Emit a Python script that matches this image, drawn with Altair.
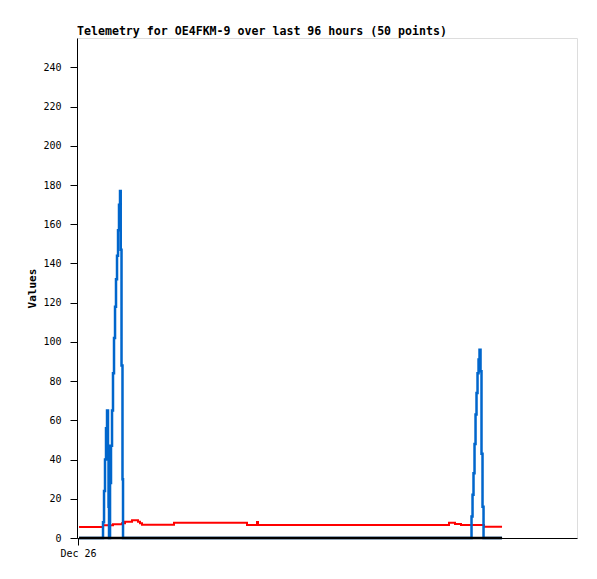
import altair as alt
import pandas as pd

title_text = "Telemetry for OE4FKM-9 over last 96 hours (50 points)"

# hours since Dec 26 00:00
blue_hours = [0.23, 5.55, 5.66, 5.89, 6.11, 6.34, 6.57, 6.79, 6.91, 7.02, 7.25, 7.47, 7.70,
              7.92, 8.15, 8.38, 8.60, 8.83, 9.06, 9.28, 9.51, 9.67, 9.85, 10.07, 10.19,
              88.98, 89.09, 89.32, 89.54, 89.77, 90.00, 90.22, 90.45, 90.68, 90.90,
              91.13, 91.35, 91.58, 91.81, 96.0]
blue_vals = [0, 0, 8, 24, 40, 56, 65, 47, 16, 0, 28, 47, 65,
             84, 102, 118, 132, 144, 157, 170, 177, 147, 88, 30, 0,
             0, 11, 22, 33, 48, 63, 74, 84, 91, 96,
             85, 43, 16, 0, 0]

red_hours = [0.23, 5.43, 5.66, 7.70, 7.92, 9.74, 9.96, 10.41, 10.64, 12.0, 12.23, 13.36,
             13.58, 14.04, 14.49, 21.28, 21.73, 37.81, 38.26, 40.30, 40.53, 40.75,
             83.54, 83.99, 84.90, 85.35, 86.48, 86.71, 91.47, 91.92, 96.0]
red_vals = [5.6, 5.6, 6.5, 6.5, 7.0, 7.0, 7.5, 7.5, 8.3, 8.3, 9.0, 9.0,
            8.3, 7.5, 6.8, 6.8, 7.8, 7.8, 6.6, 6.6, 8.2, 6.6,
            6.6, 7.8, 7.8, 7.1, 7.1, 6.6, 6.6, 5.8, 5.8]

black_hours = [0.23, 96.0]
black_vals = [0, 0]

x_tick_values = [0]
x_tick_labels = ["Dec 26"]
y_ticks = [0, 20, 40, 60, 80, 100, 120, 140, 160, 180, 200, 220, 240]

red_df = pd.DataFrame({"h": red_hours, "v": red_vals, "o": range(len(red_hours))})
blue_df = pd.DataFrame({"h": blue_hours, "v": blue_vals, "o": range(len(blue_hours))})
black_df = pd.DataFrame({"h": black_hours, "v": black_vals, "o": range(len(black_hours))})

label_expr = "{" + ",".join(f"'{v}':'{l}'" for v, l in zip(x_tick_values, x_tick_labels)) + "}[datum.value]"

font = "DejaVu Sans Mono"

x_enc = alt.X("h:Q", scale=alt.Scale(domain=[-0.23, 112.97], nice=False, zero=False),
              axis=alt.Axis(values=x_tick_values, labelExpr=label_expr, title=None, grid=False,
                            tickSize=7, labelPadding=3, labelFont=font, labelFontSize=10,
                            labelColor="black", domainColor="black", tickColor="black"))
y_enc = alt.Y("v:Q", scale=alt.Scale(domain=[0, 255], nice=False),
              axis=alt.Axis(values=y_ticks, title="Values", grid=False, tickSize=7,
                            labelPadding=9, labelFont=font, labelFontSize=10, labelColor="black",
                            titleFont=font, titleFontSize=11, titleFontWeight="bold",
                            titleX=-45, titleY=250, titleAlign="center", titleBaseline="middle",
                            titleAngle=-90, domainColor="black", tickColor="black"))

red = alt.Chart(red_df).mark_line(color="#ff0000", strokeWidth=2, interpolate="step-after").encode(
    x=x_enc, y=y_enc, order="o:Q")
blue = alt.Chart(blue_df).mark_line(color="#0066cc", strokeWidth=2.5, interpolate="step-after").encode(
    x=x_enc, y=y_enc, order="o:Q")
black = alt.Chart(black_df).mark_line(color="black", strokeWidth=2.5).encode(x=x_enc, y=y_enc, order="o:Q")

chart = alt.layer(red, blue, black).properties(
    width=500, height=500,
    title=alt.TitleParams(title_text, anchor="start", frame="group", font=font, fontSize=11.6,
                          fontWeight="bold", color="black", offset=0),
    autosize=alt.AutoSizeParams(type="none"),
    padding={"left": 69, "top": 30, "right": 12, "bottom": 30},
).configure_view(stroke="#333333", strokeWidth=1).configure(background="white")

chart.save("out.html", embed_options={"renderer": "svg", "actions": False})
